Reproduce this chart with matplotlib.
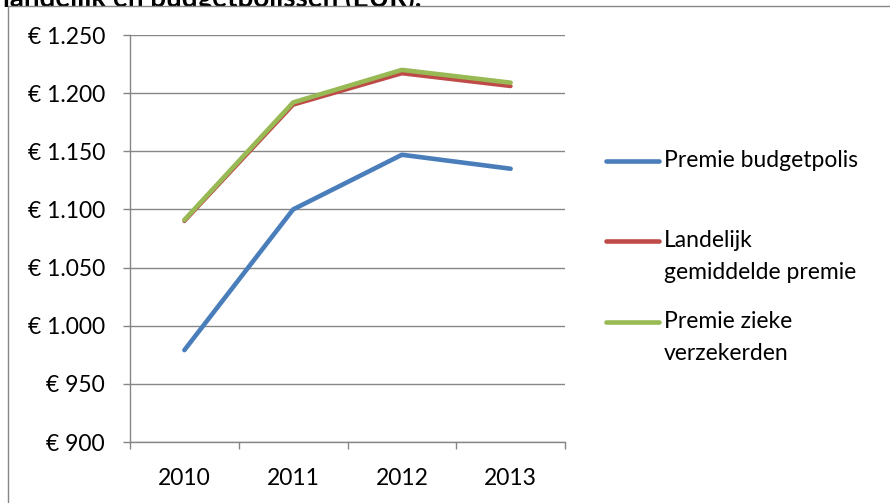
import matplotlib
matplotlib.use("Agg")
import matplotlib.pyplot as plt
from matplotlib.patches import Rectangle
from matplotlib.lines import Line2D

years = ["2010", "2011", "2012", "2013"]
budgetpolis = [979, 1100, 1147, 1135]
landelijk = [1090, 1190, 1217, 1206]
zieke = [1091, 1192, 1220, 1209]
series_names = ["Premie budgetpolis", "Landelijk\ngemiddelde premie", "Premie zieke\nverzekerden"]
ytick_vals = [900, 950, 1000, 1050, 1100, 1150, 1200, 1250]
ytick_labels = ["€ 900", "€ 950", "€ 1.000", "€ 1.050", "€ 1.100", "€ 1.150", "€ 1.200", "€ 1.250"]
title = "landelijk en budgetpolissen (EUR)."

colors = ["#4A7EBB", "#BE4B48", "#98B954"]
grey = "#868686"

plt.rcParams['font.family'] = ['Lato', 'DejaVu Sans']
W, H = 890, 503
fig = plt.figure(figsize=(W / 100, H / 100), dpi=100)

def fx(px):
    return px / W

def fy(py):
    return 1 - py / H

# title partly hidden behind the chart area (as in the reference)
fig.text(fx(3), fy(7.5), title, fontsize=20, fontweight='bold', va='baseline', ha='left', zorder=-3)

# outer chart frame, white filled, covering the lower part of the title
fig.add_artist(Rectangle((fx(8), -0.2), 1.5, fy(5.5) + 0.2, transform=fig.transFigure,
                         facecolor='white', edgecolor=grey, lw=1.0, zorder=-2))

ax = fig.add_axes([fx(130), fy(442), fx(565) - fx(130), fy(35) - fy(442)])
x = list(range(len(years)))
ax.plot(x, budgetpolis, color=colors[0], lw=3.3, solid_capstyle='round', solid_joinstyle='round', zorder=3)
ax.plot(x, landelijk, color=colors[1], lw=3.0, solid_capstyle='round', solid_joinstyle='round', zorder=4)
ax.plot(x, zieke, color=colors[2], lw=3.3, solid_capstyle='round', solid_joinstyle='round', zorder=5)

ax.set_xlim(-0.5, len(years) - 0.5)
ax.set_ylim(ytick_vals[0], ytick_vals[-1])
ax.set_yticks(ytick_vals)
ax.set_yticklabels(ytick_labels)
ax.set_xticks(x)
ax.set_xticklabels(years)
ax.set_xticks([i - 0.5 for i in range(len(years) + 1)], minor=True)
ax.yaxis.grid(True, color=grey, lw=1.0)
ax.set_axisbelow(True)
for s in ["top", "right"]:
    ax.spines[s].set_visible(False)
for s in ["left", "bottom"]:
    ax.spines[s].set_color(grey)
    ax.spines[s].set_linewidth(1.0)
ax.tick_params(axis='y', length=5, width=1.0, color=grey, pad=13, labelsize=16.5)
ax.tick_params(axis='x', which='major', length=0, pad=19, labelsize=16.5)
ax.tick_params(axis='x', which='minor', length=5, width=1.0, color=grey)

# legend (manual, Excel style)
entries = [(160.5, [series_names[0]]), (240.5, series_names[1].split("\n")), (321.5, series_names[2].split("\n"))]
for (yc, lines), c in zip(entries, colors):
    fig.add_artist(Line2D([fx(606), fx(659)], [fy(yc), fy(yc)], transform=fig.transFigure,
                          color=c, lw=3.3, solid_capstyle='round'))
    for i, t in enumerate(lines):
        fig.text(fx(664), fy(yc + i * 32), t, fontsize=16.5, va='center', ha='left')

fig.savefig("out.png", dpi=100)
